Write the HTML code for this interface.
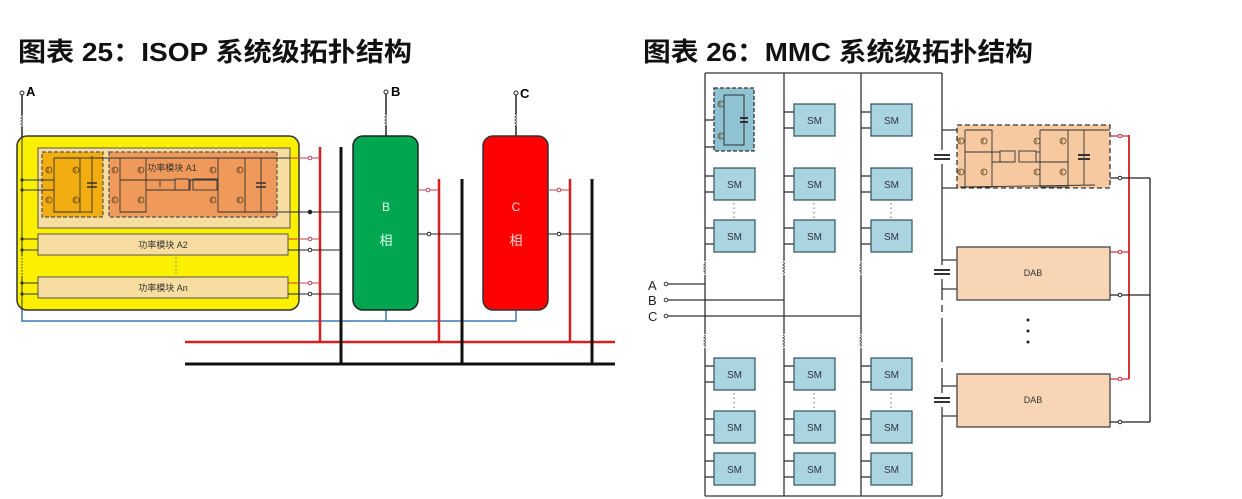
<!DOCTYPE html>
<html><head><meta charset="utf-8"><style>
html,body{margin:0;padding:0;background:#fff;}
svg{display:block;}
text{font-family:"Liberation Sans","Noto Sans CJK SC",sans-serif;}
</style></head><body>
<svg width="1242" height="499" viewBox="0 0 1242 499" xmlns="http://www.w3.org/2000/svg">
<defs>
<g id="sw"><circle cx="0" cy="0" r="3" fill="none" stroke="#5a4020" stroke-width="0.8"/><line x1="-1" y1="-2" x2="-1" y2="2" stroke="#5a4020" stroke-width="0.8"/></g>
<g id="ind"><path d="M0,0 q3,1.5 0,3 q3,1.5 0,3 q3,1.5 0,3 q3,1.5 0,3" fill="none" stroke="#555" stroke-width="1"/></g>
<g id="sm"><rect x="0" y="0" width="41" height="32" fill="#a9d4e0" stroke="#3d5c66" stroke-width="1.3"/><text x="20.5" y="20" font-size="10" text-anchor="middle" fill="#334">SM</text></g>
</defs>
<!-- titles -->
<text x="18" y="61" font-size="26" font-weight="bold" textLength="394" lengthAdjust="spacingAndGlyphs" fill="#111">图表 25：ISOP 系统级拓扑结构</text>
<text x="643" y="61" font-size="26" font-weight="bold" textLength="390" lengthAdjust="spacingAndGlyphs" fill="#111">图表 26：MMC 系统级拓扑结构</text>

<!-- ===== LEFT FIGURE ===== -->
<g stroke-linecap="butt">
<!-- bottom buses -->
<line x1="185" y1="342" x2="615" y2="342" stroke="#d42020" stroke-width="2.5"/>
<line x1="185" y1="364" x2="615" y2="364" stroke="#111" stroke-width="3"/>
<!-- blue neutral -->
<polyline points="22,300 22,321 516,321 516,310" fill="none" stroke="#3a7ab0" stroke-width="1.5"/>
<line x1="386" y1="310" x2="386" y2="321" stroke="#3a7ab0" stroke-width="1.5"/>
<!-- verticals -->
<line x1="320" y1="147" x2="320" y2="342" stroke="#d42020" stroke-width="2.5"/>
<line x1="341" y1="147" x2="341" y2="364" stroke="#111" stroke-width="3"/>
<line x1="439" y1="179" x2="439" y2="342" stroke="#d42020" stroke-width="2.5"/>
<line x1="462" y1="179" x2="462" y2="364" stroke="#111" stroke-width="3"/>
<line x1="570" y1="179" x2="570" y2="342" stroke="#d42020" stroke-width="2.5"/>
<line x1="592" y1="179" x2="592" y2="364" stroke="#111" stroke-width="3"/>

<!-- A terminal -->
<circle cx="22" cy="93" r="2" fill="#fff" stroke="#222"/>
<text x="26" y="96" font-size="13" font-weight="bold">A</text>
<line x1="22" y1="95" x2="22" y2="115" stroke="#222" stroke-width="1.5"/>
<use href="#ind" x="21" y="115"/>
<line x1="22" y1="127" x2="22" y2="137" stroke="#222" stroke-width="1.5"/>
<!-- yellow box -->
<rect x="17" y="136" width="282" height="174" rx="10" fill="#fbf000" stroke="#333" stroke-width="1.5"/>
<line x1="22" y1="137" x2="22" y2="310" stroke="#333" stroke-width="1"/>
<line x1="22" y1="255" x2="22" y2="277" stroke="#fbf000" stroke-width="2"/>
<line x1="22" y1="255" x2="22" y2="277" stroke="#333" stroke-width="1" stroke-dasharray="1.5,1.5"/>
<!-- inner A1 box -->
<rect x="38" y="148" width="252" height="80" fill="#f7dea0" stroke="#555" stroke-width="1"/>
<rect x="42" y="152" width="61" height="65" fill="#f2ad10" stroke="#555" stroke-width="1.2" stroke-dasharray="4,2"/>
<rect x="109" y="152" width="168" height="65" fill="#ef9a5a" stroke="#555" stroke-width="1.2" stroke-dasharray="4,2"/>
<g stroke="#333" stroke-width="0.9" fill="none">
<polyline points="54,158 80,158 80,212 54,212 54,158"/>
<line x1="92" y1="156" x2="92" y2="213"/>
<line x1="80" y1="158" x2="92" y2="158"/><line x1="80" y1="212" x2="92" y2="212"/>
<line x1="87" y1="183" x2="97" y2="183" stroke-width="1.5"/><line x1="87" y1="187" x2="97" y2="187" stroke-width="1.5"/>
<line x1="92" y1="158" x2="290" y2="158"/>
<polyline points="120,158 146,158 146,212 120,212 120,158"/>
<polyline points="218,158 245,158 245,212 218,212 218,158"/>
<line x1="261" y1="158" x2="261" y2="212"/>
<line x1="245" y1="212" x2="290" y2="212"/>
<line x1="256" y1="183" x2="266" y2="183" stroke-width="1.5"/><line x1="256" y1="187" x2="266" y2="187" stroke-width="1.5"/>
<polyline points="120,180 146,180 146,180 175,180"/>
<polyline points="146,190 190,190 190,180 218,180"/>
<line x1="160" y1="181" x2="160" y2="187"/>
<rect x="175" y="179" width="14" height="11"/>
<rect x="193" y="179" width="24" height="11"/>
<line x1="22" y1="180" x2="54" y2="180"/><line x1="22" y1="190" x2="54" y2="190"/>
</g>
<g>
<use href="#sw" x="49" y="170"/><use href="#sw" x="76" y="170"/><use href="#sw" x="49" y="200"/><use href="#sw" x="76" y="200"/>
<use href="#sw" x="115" y="170"/><use href="#sw" x="141" y="170"/><use href="#sw" x="115" y="200"/><use href="#sw" x="141" y="200"/>
<use href="#sw" x="213" y="170"/><use href="#sw" x="240" y="170"/><use href="#sw" x="213" y="200"/><use href="#sw" x="240" y="200"/>
</g>
<text x="172" y="171" font-size="9" fill="#333" text-anchor="middle">功率模块 A1</text>
<!-- A2, An -->
<rect x="38" y="234" width="250" height="21" fill="#f7dea0" stroke="#555" stroke-width="1"/>
<text x="163" y="248" font-size="9" fill="#333" text-anchor="middle">功率模块 A2</text>
<rect x="38" y="277" width="250" height="21" fill="#f7dea0" stroke="#555" stroke-width="1"/>
<text x="163" y="291" font-size="9" fill="#333" text-anchor="middle">功率模块 An</text>
<line x1="176" y1="258" x2="176" y2="273" stroke="#777" stroke-width="1" stroke-dasharray="1.5,2"/>
<g stroke="#333" stroke-width="1">
<line x1="22" y1="239" x2="38" y2="239"/><line x1="22" y1="250" x2="38" y2="250"/>
<line x1="22" y1="283" x2="38" y2="283"/><line x1="22" y1="294" x2="38" y2="294"/>
</g>
<g fill="#333"><circle cx="22" cy="180" r="1.6"/><circle cx="22" cy="190" r="1.6"/><circle cx="22" cy="239" r="1.6"/><circle cx="22" cy="250" r="1.6"/><circle cx="22" cy="283" r="1.6"/><circle cx="22" cy="294" r="1.6"/></g>
<!-- right connections of A -->
<g stroke-width="1">
<line x1="290" y1="158" x2="320" y2="158" stroke="#c04050"/>
<line x1="290" y1="212" x2="341" y2="212" stroke="#222"/>
<line x1="288" y1="239" x2="320" y2="239" stroke="#c04050"/>
<line x1="288" y1="250" x2="341" y2="250" stroke="#222"/>
<line x1="288" y1="283" x2="320" y2="283" stroke="#c04050"/>
<line x1="288" y1="294" x2="341" y2="294" stroke="#222"/>
</g>
<g fill="#fff" stroke-width="1"><circle cx="310" cy="158" r="1.8" stroke="#c04050"/><circle cx="310" cy="212" r="1.8" stroke="#222" fill="#222"/><circle cx="310" cy="239" r="1.8" stroke="#c04050"/><circle cx="310" cy="250" r="1.8" stroke="#222"/><circle cx="310" cy="283" r="1.8" stroke="#c04050"/><circle cx="310" cy="294" r="1.8" stroke="#222"/></g>

<!-- B -->
<circle cx="386" cy="92" r="2" fill="#fff" stroke="#222"/>
<text x="391" y="96" font-size="13" font-weight="bold">B</text>
<line x1="386" y1="94" x2="386" y2="114" stroke="#222" stroke-width="1.5"/>
<use href="#ind" x="385" y="114"/>
<line x1="386" y1="126" x2="386" y2="137" stroke="#222" stroke-width="1.5"/>
<rect x="353" y="136" width="65" height="174" rx="10" fill="#00a650" stroke="#222" stroke-width="1.5"/>
<text x="386" y="211" font-size="12" fill="#dfe" text-anchor="middle">B</text>
<text x="386" y="245" font-size="13" fill="#dfe" text-anchor="middle">相</text>
<line x1="418" y1="190" x2="439" y2="190" stroke="#c04050" stroke-width="1"/>
<line x1="418" y1="234" x2="462" y2="234" stroke="#222" stroke-width="1"/>
<circle cx="428" cy="190" r="1.8" fill="#fff" stroke="#c04050"/><circle cx="429" cy="234" r="1.8" fill="#fff" stroke="#222"/>
<!-- C -->
<circle cx="516" cy="93" r="2" fill="#fff" stroke="#222"/>
<text x="520" y="98" font-size="13" font-weight="bold">C</text>
<line x1="516" y1="95" x2="516" y2="114" stroke="#222" stroke-width="1.5"/>
<use href="#ind" x="515" y="114"/>
<line x1="516" y1="126" x2="516" y2="137" stroke="#222" stroke-width="1.5"/>
<rect x="483" y="136" width="65" height="174" rx="10" fill="#fe0000" stroke="#333" stroke-width="1.5"/>
<text x="516" y="211" font-size="12" fill="#fdd" text-anchor="middle">C</text>
<text x="516" y="245" font-size="13" fill="#fdd" text-anchor="middle">相</text>
<line x1="548" y1="190" x2="570" y2="190" stroke="#c04050" stroke-width="1"/>
<line x1="548" y1="234" x2="592" y2="234" stroke="#222" stroke-width="1"/>
<circle cx="559" cy="190" r="1.8" fill="#fff" stroke="#c04050"/><circle cx="559" cy="234" r="1.8" fill="#fff" stroke="#222"/>
</g>

<!-- ===== RIGHT FIGURE ===== -->
<g stroke="#333" stroke-width="1.3" fill="none">
<line x1="705" y1="73" x2="942" y2="73"/>
<line x1="705" y1="496" x2="942" y2="496"/>
<line x1="705" y1="73" x2="705" y2="496"/>
<line x1="784" y1="73" x2="784" y2="496"/>
<line x1="861" y1="73" x2="861" y2="496"/>
<line x1="942" y1="73" x2="942" y2="150"/>
<line x1="942" y1="164" x2="942" y2="265"/>
<line x1="942" y1="279" x2="942" y2="300"/>
<line x1="942" y1="305" x2="942" y2="312" />
<line x1="942" y1="318" x2="942" y2="362"/>
<line x1="942" y1="368" x2="942" y2="393"/>
<line x1="942" y1="407" x2="942" y2="496"/>
<!-- caps -->
<line x1="934" y1="155" x2="950" y2="155" stroke-width="2"/><line x1="934" y1="159" x2="950" y2="159" stroke-width="2"/>
<line x1="934" y1="270" x2="950" y2="270" stroke-width="2"/><line x1="934" y1="274" x2="950" y2="274" stroke-width="2"/>
<line x1="934" y1="398" x2="950" y2="398" stroke-width="2"/><line x1="934" y1="402" x2="950" y2="402" stroke-width="2"/>
<!-- ABC -->
<line x1="667" y1="284" x2="705" y2="284"/>
<line x1="667" y1="300" x2="784" y2="300"/>
<line x1="667" y1="316" x2="861" y2="316"/>
</g>
<g fill="#fff" stroke="#333"><circle cx="666" cy="284" r="1.8"/><circle cx="666" cy="300" r="1.8"/><circle cx="666" cy="316" r="1.8"/></g>
<text x="648" y="290" font-size="13" fill="#222">A</text>
<text x="648" y="305" font-size="13" fill="#222">B</text>
<text x="648" y="321" font-size="13" fill="#222">C</text>
<!-- gaps for inductors (white) and inductors -->
<g fill="#fff" stroke="none">
<rect x="700" y="261" width="10" height="14"/><rect x="779" y="261" width="10" height="14"/><rect x="856" y="261" width="10" height="14"/>
<rect x="700" y="334" width="10" height="14"/><rect x="779" y="334" width="10" height="14"/><rect x="856" y="334" width="10" height="14"/>
</g>
<use href="#ind" x="704" y="262"/><use href="#ind" x="783" y="262"/><use href="#ind" x="860" y="262"/>
<use href="#ind" x="704" y="335"/><use href="#ind" x="783" y="335"/><use href="#ind" x="860" y="335"/>

<!-- SM stubs -->
<g stroke="#333" stroke-width="1.3">
<line x1="705" y1="120" x2="714" y2="120"/><line x1="705" y1="147" x2="714" y2="147"/>
<line x1="705" y1="176" x2="714" y2="176"/><line x1="705" y1="192" x2="714" y2="192"/>
<line x1="705" y1="228" x2="714" y2="228"/><line x1="705" y1="244" x2="714" y2="244"/>
<line x1="784" y1="112" x2="794" y2="112"/><line x1="784" y1="128" x2="794" y2="128"/>
<line x1="784" y1="176" x2="794" y2="176"/><line x1="784" y1="192" x2="794" y2="192"/>
<line x1="784" y1="228" x2="794" y2="228"/><line x1="784" y1="244" x2="794" y2="244"/>
<line x1="861" y1="112" x2="871" y2="112"/><line x1="861" y1="128" x2="871" y2="128"/>
<line x1="861" y1="176" x2="871" y2="176"/><line x1="861" y1="192" x2="871" y2="192"/>
<line x1="861" y1="228" x2="871" y2="228"/><line x1="861" y1="244" x2="871" y2="244"/>
<line x1="705" y1="366" x2="714" y2="366"/><line x1="705" y1="382" x2="714" y2="382"/>
<line x1="705" y1="419" x2="714" y2="419"/><line x1="705" y1="435" x2="714" y2="435"/>
<line x1="705" y1="461" x2="714" y2="461"/><line x1="705" y1="477" x2="714" y2="477"/>
<line x1="784" y1="366" x2="794" y2="366"/><line x1="784" y1="382" x2="794" y2="382"/>
<line x1="784" y1="419" x2="794" y2="419"/><line x1="784" y1="435" x2="794" y2="435"/>
<line x1="784" y1="461" x2="794" y2="461"/><line x1="784" y1="477" x2="794" y2="477"/>
<line x1="861" y1="366" x2="871" y2="366"/><line x1="861" y1="382" x2="871" y2="382"/>
<line x1="861" y1="419" x2="871" y2="419"/><line x1="861" y1="435" x2="871" y2="435"/>
<line x1="861" y1="461" x2="871" y2="461"/><line x1="861" y1="477" x2="871" y2="477"/>
</g>
<!-- highlighted SM -->
<rect x="714" y="88" width="40" height="63" fill="#8fc3d3" stroke="#333" stroke-width="1.3" stroke-dasharray="4,2"/>
<g stroke="#333" stroke-width="1" fill="none">
<polyline points="724,95 744,95 744,145 724,145 724,95"/>
<line x1="740" y1="118" x2="748" y2="118" stroke-width="2"/><line x1="740" y1="122" x2="748" y2="122" stroke-width="2"/>
</g>
<use href="#sw" x="721" y="104"/><use href="#sw" x="721" y="136"/>
<!-- SM boxes -->
<use href="#sm" x="714" y="168"/><use href="#sm" x="714" y="220"/>
<use href="#sm" x="794" y="104"/><use href="#sm" x="794" y="168"/><use href="#sm" x="794" y="220"/>
<use href="#sm" x="871" y="104"/><use href="#sm" x="871" y="168"/><use href="#sm" x="871" y="220"/>
<use href="#sm" x="714" y="358"/><use href="#sm" x="714" y="411"/><use href="#sm" x="714" y="453"/>
<use href="#sm" x="794" y="358"/><use href="#sm" x="794" y="411"/><use href="#sm" x="794" y="453"/>
<use href="#sm" x="871" y="358"/><use href="#sm" x="871" y="411"/><use href="#sm" x="871" y="453"/>
<g stroke="#666" stroke-width="1" stroke-dasharray="1.5,3">
<line x1="734" y1="203" x2="734" y2="218"/><line x1="814" y1="203" x2="814" y2="218"/><line x1="891" y1="203" x2="891" y2="218"/>
<line x1="734" y1="393" x2="734" y2="409"/><line x1="814" y1="393" x2="814" y2="409"/><line x1="891" y1="393" x2="891" y2="409"/>
</g>

<!-- right side DC links -->
<line x1="1129" y1="135" x2="1129" y2="379" stroke="#d42020" stroke-width="1.8"/>
<line x1="1150" y1="178" x2="1150" y2="422" stroke="#222" stroke-width="1.3"/>
<g stroke="#333" stroke-width="1.2">
<line x1="942" y1="130" x2="957" y2="130"/><line x1="942" y1="188" x2="957" y2="188"/>
<line x1="942" y1="260" x2="957" y2="260"/><line x1="942" y1="289" x2="957" y2="289"/>
<line x1="942" y1="386" x2="957" y2="386"/><line x1="942" y1="416" x2="957" y2="416"/>
</g>
<!-- top detailed DAB -->
<rect x="957" y="125" width="153" height="63" fill="#f7c9a0" stroke="#333" stroke-width="1.3" stroke-dasharray="5,3"/>
<g stroke="#333" stroke-width="0.9" fill="none">
<polyline points="965,130 992,130 992,187 965,187 965,130"/>
<line x1="965" y1="152" x2="1000" y2="152"/><line x1="992" y1="162" x2="1015" y2="162"/>
<rect x="1000" y="151" width="15" height="11"/><rect x="1019" y="151" width="17" height="11"/>
<polyline points="1040,130 1068,130 1068,187 1040,187 1040,130"/>
<line x1="1036" y1="152" x2="1040" y2="152"/><line x1="1036" y1="162" x2="1068" y2="162"/>
<line x1="1068" y1="130" x2="1110" y2="130"/><line x1="1084" y1="130" x2="1084" y2="185"/>
<line x1="960" y1="187" x2="1095" y2="185"/>
<line x1="1078" y1="155" x2="1090" y2="155" stroke-width="2"/><line x1="1078" y1="159" x2="1090" y2="159" stroke-width="2"/>
</g>
<use href="#sw" x="961" y="141"/><use href="#sw" x="984" y="141"/><use href="#sw" x="961" y="172"/><use href="#sw" x="984" y="172"/>
<use href="#sw" x="1037" y="141"/><use href="#sw" x="1063" y="141"/><use href="#sw" x="1037" y="172"/><use href="#sw" x="1063" y="172"/>
<!-- DABs -->
<rect x="957" y="247" width="153" height="53" fill="#f8d5b5" stroke="#444" stroke-width="1.3"/>
<text x="1033" y="276" font-size="9" fill="#333" text-anchor="middle">DAB</text>
<rect x="957" y="374" width="153" height="53" fill="#f8d5b5" stroke="#444" stroke-width="1.3"/>
<text x="1033" y="403" font-size="9" fill="#333" text-anchor="middle">DAB</text>
<g fill="#222"><circle cx="1028" cy="320" r="1.5"/><circle cx="1028" cy="331" r="1.5"/><circle cx="1028" cy="342" r="1.5"/></g>
<g stroke-width="1.2">
<line x1="1110" y1="136" x2="1129" y2="136" stroke="#c03040"/>
<line x1="1110" y1="178" x2="1150" y2="178" stroke="#222"/>
<line x1="1110" y1="252" x2="1129" y2="252" stroke="#c03040"/>
<line x1="1110" y1="295" x2="1150" y2="295" stroke="#222"/>
<line x1="1110" y1="379" x2="1129" y2="379" stroke="#c03040"/>
<line x1="1110" y1="422" x2="1150" y2="422" stroke="#222"/>
</g>
<g fill="#fff" stroke-width="1"><circle cx="1120" cy="136" r="1.8" stroke="#c03040"/><circle cx="1120" cy="178" r="1.8" stroke="#222"/><circle cx="1120" cy="252" r="1.8" stroke="#c03040"/><circle cx="1120" cy="295" r="1.8" stroke="#222"/><circle cx="1120" cy="379" r="1.8" stroke="#c03040"/><circle cx="1120" cy="422" r="1.8" stroke="#222"/></g>
</svg>
</body></html>
